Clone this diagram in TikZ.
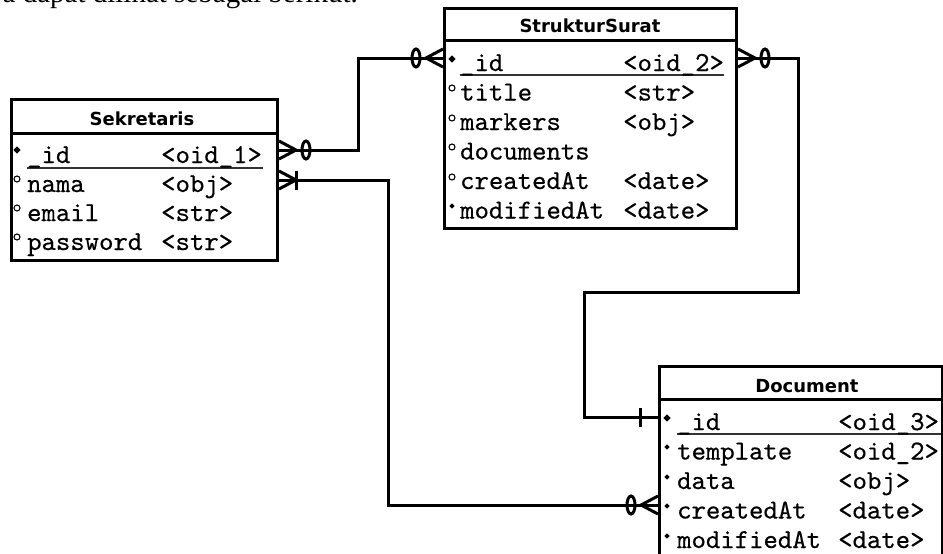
\documentclass[tikz,border=0pt]{standalone}
\usepackage{fontspec}
\newfontfamily\hdfont{DejaVu Sans}
\newfontfamily\serf{Liberation Serif}
\newfontfamily\monof[FakeBold=0.4]{lmmono10-regular.otf}
\usetikzlibrary{shapes.geometric}
\begin{document}
\begin{tikzpicture}[x=1pt,y=-1pt,
  tbl/.style={draw, line width=3pt, inner sep=0pt, anchor=north west},
  sepline/.style={line width=3pt},
  conn/.style={line width=3pt},
  crow/.style={line width=3pt},
  uline/.style={line width=1.8pt, black!80},
  fld/.style={anchor=base west, inner sep=0pt, font=\fontsize{27.4}{30}\selectfont\monof},
  hdr/.style={anchor=base, inner sep=0pt, font=\fontsize{18}{20}\selectfont\hdfont\bfseries},
  keym/.style={diamond, fill, inner sep=0pt, minimum size=7.5pt},
  optm/.style={circle, draw, line width=1.1pt, inner sep=0pt, minimum size=6pt},
  reqm/.style={diamond, fill, inner sep=0pt, minimum size=5.5pt},
  crowzero/.pic={
    \draw[crow] (0,-9) -- (17,0) -- (0,9);
    \draw[crow] (27,0) ellipse [x radius=4, y radius=9];
  },
  crowone/.pic={
    \draw[crow] (0,-9) -- (17,0) -- (0,9);
    \draw[crow] (17,-9.5) -- (17,9.5);
  },
  onebar/.pic={
    \draw[crow] (18,-9.5) -- (18,9.5);
  }
]
\useasboundingbox (0,0) rectangle (943,554);
\clip (0,0) rectangle (943,554);
\fill[white] (0,0) rectangle (943,554);

% intro text (cut off at top)
\node[anchor=base east, inner sep=0pt, font=\fontsize{29}{31}\selectfont\serf] (intro) at (358,2.5) {a dapat dilihat sebagai berikut.};

% ---------- Sekretaris ----------
\node[tbl, minimum width=266pt, minimum height=161pt] (sek) at (10,98) {};
\draw[sepline] (sek.west |- 0,133) -- (sek.east |- 0,133);
\node[hdr] (sekh) at (142,125) {Sekretaris};
\draw[uline] (27,168) -- (263,168);
\node[keym] (sekm1) at (17,150) {};
\node[optm] (sekm2) at (17,179) {};
\node[optm] (sekm3) at (17,208) {};
\node[optm] (sekm4) at (17,237) {};
\node[fld] (sek1a) at (27,163) {\_id};
\node[fld] (sek1b) at (161,163) {<oid\_1>};
\node[fld] (sek2a) at (27,192) {nama};
\node[fld] (sek2b) at (161,192) {<obj>};
\node[fld] (sek3a) at (27,221) {email};
\node[fld] (sek3b) at (161,221) {<str>};
\node[fld] (sek4a) at (27,250) {password};
\node[fld] (sek4b) at (161,250) {<str>};

% ---------- StrukturSurat ----------
\node[tbl, minimum width=292pt, minimum height=220pt] (ss) at (443,7) {};
\draw[sepline] (ss.west |- 0,40) -- (ss.east |- 0,40);
\node[hdr] (ssh) at (590,32) {StrukturSurat};
\draw[uline] (460,75) -- (724,75);
\node[keym] (ssm1) at (452,59) {};
\node[optm] (ssm2) at (452,88) {};
\node[optm] (ssm3) at (452,118) {};
\node[optm] (ssm4) at (452,147) {};
\node[optm] (ssm5) at (452,177) {};
\node[reqm] (ssm6) at (452,206) {};
\node[fld] (ss1a) at (460,71) {\_id};
\node[fld] (ss1b) at (623,71) {<oid\_2>};
\node[fld] (ss2a) at (460,100.5) {title};
\node[fld] (ss2b) at (623,100.5) {<str>};
\node[fld] (ss3a) at (460,130) {markers};
\node[fld] (ss3b) at (623,130) {<obj>};
\node[fld] (ss4a) at (460,159.5) {documents};
\node[fld] (ss5a) at (460,189) {createdAt};
\node[fld] (ss5b) at (623,189) {<date>};
\node[fld] (ss6a) at (460,218.5) {modifiedAt};
\node[fld] (ss6b) at (623,218.5) {<date>};

% ---------- Document ----------
\node[tbl, minimum width=283pt, minimum height=230pt] (doc) at (658,365) {};
\draw[sepline] (doc.west |- 0,399) -- (doc.east |- 0,399);
\node[hdr] (doch) at (807,392) {Document};
\draw[uline] (677,434) -- (941,434);
\node[keym] (docm1) at (667,418) {};
\node[reqm] (docm2) at (667,447) {};
\node[reqm] (docm3) at (667,477) {};
\node[reqm] (docm4) at (667,506) {};
\node[reqm] (docm5) at (667,536) {};
\node[fld] (doc1a) at (677,430) {\_id};
\node[fld] (doc1b) at (838,430) {<oid\_3>};
\node[fld] (doc2a) at (677,459.5) {template};
\node[fld] (doc2b) at (838,459.5) {<oid\_2>};
\node[fld] (doc3a) at (677,489) {data};
\node[fld] (doc3b) at (838,489) {<obj>};
\node[fld] (doc4a) at (677,518.5) {createdAt};
\node[fld] (doc4b) at (838,518.5) {<date>};
\node[fld] (doc5a) at (677,548) {modifiedAt};
\node[fld] (doc5b) at (838,548) {<date>};

% ---------- connectors ----------
\draw[conn] (sek.east |- 0,150) -- (358,150) |- (ss.west |- 0,58);
\draw[conn] (sek.east |- 0,180) -| (388,505) -- (doc.west |- 0,505);
\draw[conn] (ss.east |- 0,58) -| (798,292) -| (584,417) -- (doc.west |- 0,417);

\pic at (sek.east |- 0,150) {crowzero};
\pic[xscale=-1] at (ss.west |- 0,58) {crowzero};
\pic at (sek.east |- 0,180) {crowone};
\pic[xscale=-1] at (doc.west |- 0,505) {crowzero};
\pic at (ss.east |- 0,58) {crowzero};
\pic[xscale=-1] at (doc.west |- 0,417) {onebar};
\end{tikzpicture}
\end{document}
